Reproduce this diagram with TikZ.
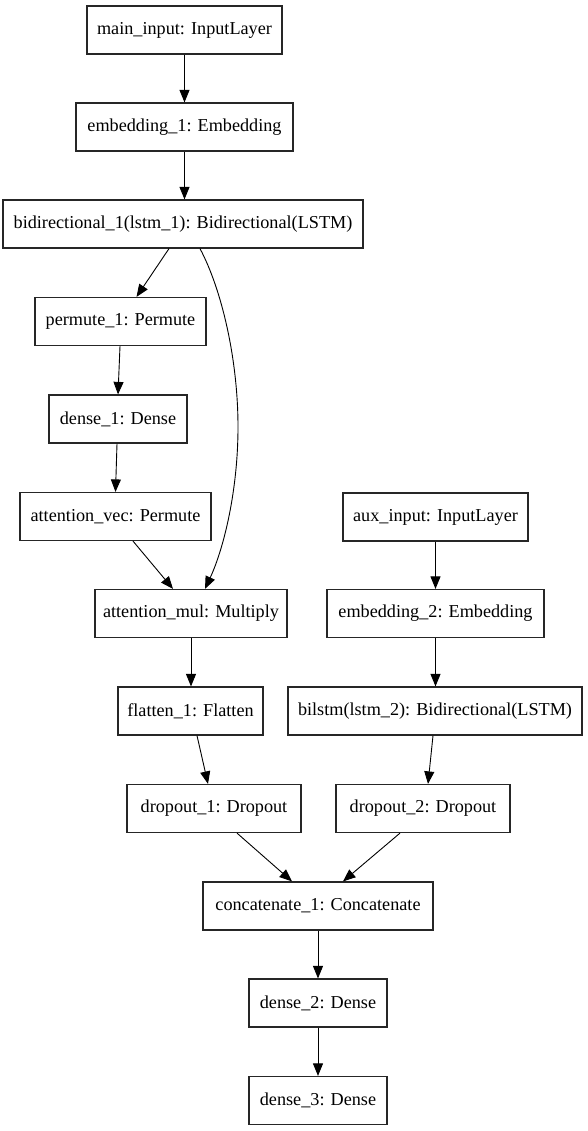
\documentclass[tikz,border=0pt]{standalone}
\usepackage{fontspec}
\setmainfont{Liberation Serif}
\usetikzlibrary{arrows.meta}
\begin{document}
\begin{tikzpicture}[x=1pt,y=-1pt,
  layer/.style={draw=black!85, line width=1.2pt, minimum height=48pt, inner sep=0pt,
    font=\fontsize{18.2}{21}\selectfont},
  flow/.style={line width=0.9pt, -{Triangle[length=12.5pt,width=10pt]}}]
\useasboundingbox[fill=white] (0,0) rectangle (587,1131);

% main branch
\node[layer, minimum width=195pt] (mi)  at (184.5,30)    {main\_input: InputLayer};
\node[layer, minimum width=217pt] (e1)  at (184.5,127)   {embedding\_1: Embedding};
\node[layer, minimum width=360pt] (bi)  at (183,224)     {bidirectional\_1(lstm\_1): Bidirectional(LSTM)};
\node[layer, minimum width=171pt] (p1)  at (120.5,321.5) {permute\_1: Permute};
\node[layer, minimum width=138pt] (d1)  at (118,419)     {dense\_1: Dense};
\node[layer, minimum width=191pt] (av)  at (115.5,516.5) {attention\_vec: Permute};
\node[layer, minimum width=192pt] (am)  at (191,613.5)   {attention\_mul: Multiply};
\node[layer, minimum width=145pt] (f1)  at (190.5,711)   {flatten\_1: Flatten};
\node[layer, minimum width=174pt] (do1) at (214,808.5)   {dropout\_1: Dropout};

% auxiliary branch
\node[layer, minimum width=185pt] (ai)  at (435.5,517)   {aux\_input: InputLayer};
\node[layer, minimum width=217pt] (e2)  at (435.5,613.5) {embedding\_2: Embedding};
\node[layer, minimum width=294pt] (bl)  at (435,711)     {bilstm(lstm\_2): Bidirectional(LSTM)};
\node[layer, minimum width=174pt] (do2) at (423,808.5)   {dropout\_2: Dropout};

% merged head
\node[layer, minimum width=230pt] (cc)  at (318,906)     {concatenate\_1: Concatenate};
\node[layer, minimum width=138pt] (d2)  at (318,1003)    {dense\_2: Dense};
\node[layer, minimum width=138pt] (d3)  at (318,1100.5)  {dense\_3: Dense};

% connectors
\draw[flow] (mi.south) -- (e1.north);
\draw[flow] (e1.south) -- (e1.south |- bi.north);
\draw[flow] ([xshift=-14pt]bi.south) -- ([xshift=16pt]p1.north);
\draw[flow] ([xshift=17pt]bi.south)
  .. controls (222,290) and (238,360) .. (238,427)
  .. controls (238,490) and (224,548) .. ([xshift=14pt]am.north);
\draw[flow] ([xshift=-0.5pt]p1.south) -- (d1.north);
\draw[flow] ([xshift=-1pt]d1.south) -- (av.north);
\draw[flow] ([xshift=17.5pt]av.south) -- ([xshift=-18pt]am.north);
\draw[flow] (am.south) -- (am.south |- f1.north);
\draw[flow] ([xshift=6.5pt]f1.south) -- ([xshift=-6pt]do1.north);
\draw[flow] (ai.south) -- (e2.north);
\draw[flow] (e2.south) -- (e2.south |- bl.north);
\draw[flow] ([xshift=-2pt]bl.south) -- ([xshift=5pt]do2.north);
\draw[flow] ([xshift=23pt]do1.south) -- ([xshift=-26pt]cc.north);
\draw[flow] ([xshift=-23pt]do2.south) -- ([xshift=25pt]cc.north);
\draw[flow] (cc.south) -- (d2.north);
\draw[flow] (d2.south) -- (d3.north);
\end{tikzpicture}
\end{document}
